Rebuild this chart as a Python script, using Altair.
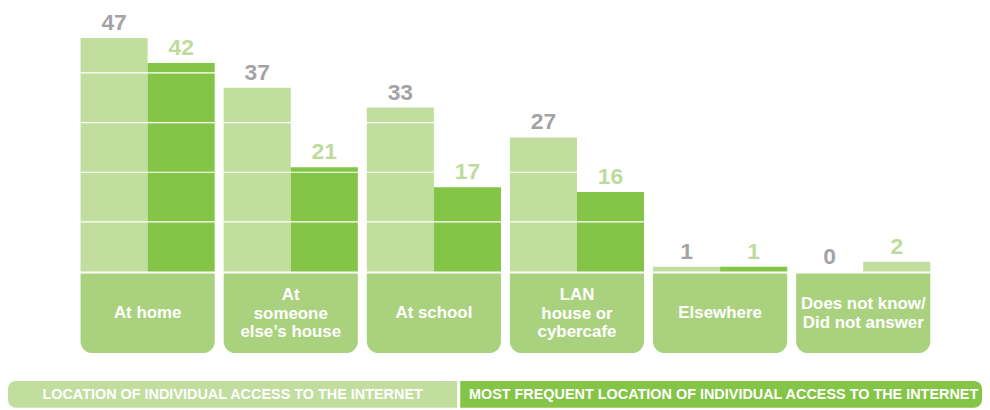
import altair as alt
import pandas as pd

categories = ["At home", "At\nsomeone\nelse’s house", "At school",
              "LAN\nhouse or\ncybercafe", "Elsewhere", "Does not know/\nDid not answer"]
series = ["LOCATION OF INDIVIDUAL ACCESS TO THE INTERNET",
          "MOST FREQUENT LOCATION OF INDIVIDUAL ACCESS TO THE INTERNET"]
access_any = [47, 37, 33, 27, 1, 0]
access_most = [42, 21, 17, 16, 1, 2]
grid_values = [10, 20, 30, 40]

LIGHT = "#c1de9f"
DARK = "#84c446"
BOX = "#aad27e"
GRAY_LBL = "#a3a3a7"
GREEN_LBL = "#bddc9b"

rows = []
for c, a, m in zip(categories, access_any, access_most):
    rows.append({"category": c, "series": series[0], "value": a})
    rows.append({"category": c, "series": series[1], "value": m})
df = pd.DataFrame(rows)
cat_df = pd.DataFrame({"category": categories})
grid_df = pd.DataFrame({"g": grid_values})

x_enc = alt.X("category:N", sort=categories,
              scale=alt.Scale(paddingInner=0.0625, paddingOuter=0), axis=None)
xoff = alt.XOffset("series:N", sort=series,
                   scale=alt.Scale(paddingInner=0, paddingOuter=0))
yscale = alt.Scale(domain=[0, 52], nice=False)

bars = alt.Chart(df).mark_bar().encode(
    x=x_enc, xOffset=xoff,
    y=alt.Y("value:Q", scale=yscale, axis=None),
    color=alt.condition(
        "indexof(datum.category, 'Does not know') >= 0 || datum.series == '" + series[0] + "'",
        alt.value(LIGHT),
        alt.value(DARK),
    ),
)

grid = alt.Chart(grid_df).mark_rule(color="white", strokeWidth=1.2).encode(
    y=alt.Y("g:Q", scale=yscale, axis=None)
)

labels = alt.Chart(df).mark_text(
    baseline="alphabetic", dy=-8, fontSize=23, fontWeight="bold", font="Liberation Sans"
).encode(
    x=x_enc, xOffset=xoff, y=alt.Y("value:Q", scale=yscale, axis=None),
    text=alt.Text("value:Q"),
    color=alt.condition("datum.series == '" + series[0] + "'",
                        alt.value(GRAY_LBL), alt.value(GREEN_LBL)),
)

boxes = alt.Chart(cat_df).mark_bar(
    color=BOX, cornerRadiusBottomLeft=12, cornerRadiusBottomRight=12
).encode(x=x_enc, y=alt.value(262), y2=alt.value(342))

box_text = alt.Chart(cat_df).transform_calculate(
    ty="-8.4 + (length(split(datum.category, '\\n')) - 1) * 1.8"
).mark_text(
    color="white", fontSize=17, fontWeight="bold", font="Liberation Sans",
    lineBreak="\n", baseline="middle", lineHeight=18.5
).encode(x=x_enc, y=alt.Y("ty:Q", scale=yscale, axis=None), text="category:N")

leg1_df = pd.DataFrame({"label": [series[0]]})
leg2_df = pd.DataFrame({"label": [series[1]]})

leg1 = alt.Chart(leg1_df).mark_rect(
    color=LIGHT, cornerRadiusTopLeft=8, cornerRadiusBottomLeft=8
).encode(x=alt.value(-73), x2=alt.value(379), y=alt.value(370), y2=alt.value(397))
leg2 = alt.Chart(leg2_df).mark_rect(
    color=DARK, cornerRadiusTopRight=8, cornerRadiusBottomRight=8
).encode(x=alt.value(382), x2=alt.value(907), y=alt.value(370), y2=alt.value(397))
leg1_t = alt.Chart(leg1_df).mark_text(
    color="white", fontSize=14.5, fontWeight="bold", font="Liberation Sans", baseline="middle"
).encode(x=alt.value(153), y=alt.value(384), text="label:N")
leg2_t = alt.Chart(leg2_df).mark_text(
    color="white", fontSize=14.5, fontWeight="bold", font="Liberation Sans", baseline="middle"
).encode(x=alt.value(647), y=alt.value(384), text="label:N")

chart = alt.layer(bars, grid, labels, boxes, box_text, leg1, leg2, leg1_t, leg2_t).properties(
    width=855, height=260,
    padding={"left": 73, "top": 4, "right": 52, "bottom": 138},
    autosize=alt.AutoSizeParams(type="none"),
    background="white",
).configure_view(stroke=None)

chart.save("out.html", embed_options={"renderer": "svg", "actions": False})
